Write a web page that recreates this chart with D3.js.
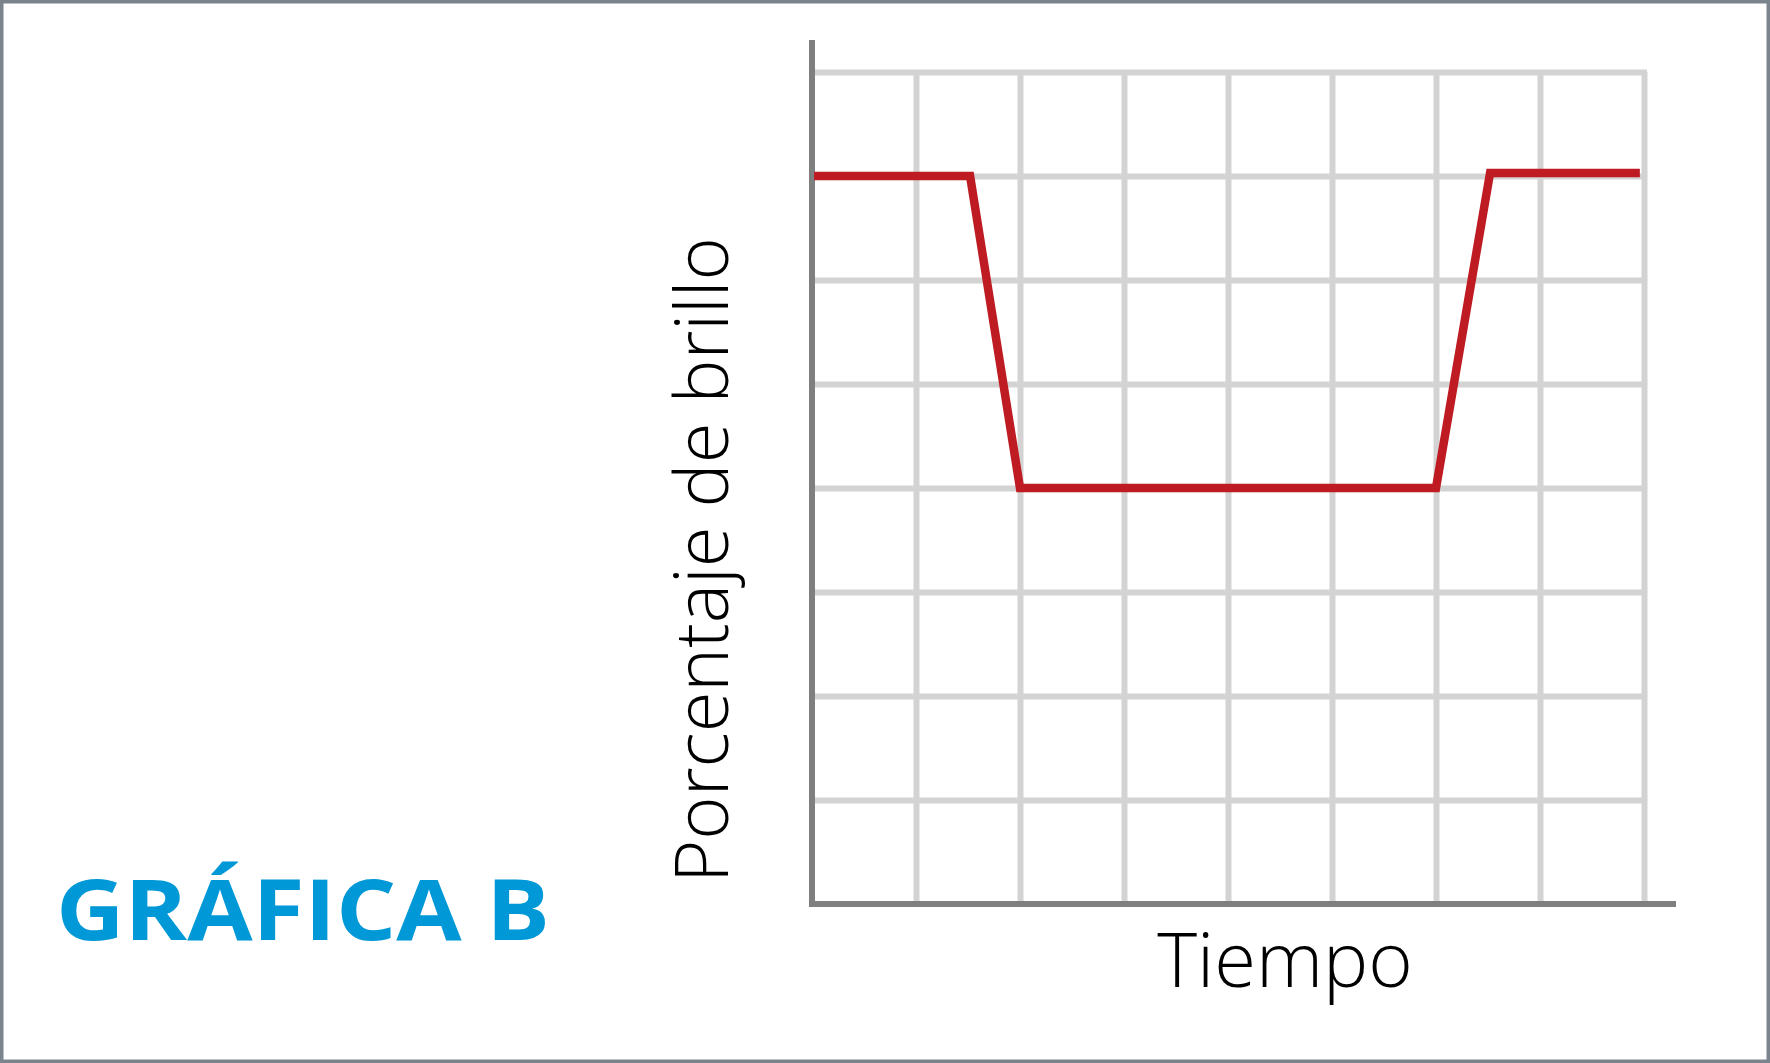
<!DOCTYPE html>
<html>
<head>
<meta charset="utf-8">
<script src="https://cdn.jsdelivr.net/npm/d3@7"></script>
<style>
  html, body { margin: 0; padding: 0; background: #fff; }
  svg { display: block; }
</style>
</head>
<body>
<div id="chart"></div>
<script>
'use strict';

// time (grid units) and brightness (%)
var timeValues = [0.02, 1.52, 2, 6, 6.52, 7.96];
var brightnessValues = [70, 70, 40, 40, 70.3, 70.3];
var xTicks = [1, 2, 3, 4, 5, 6, 7, 8];
var yTicks = [10, 20, 30, 40, 50, 60, 70, 80];

var title = 'GRÁFICA B',
    yLabel = 'Porcentaje de brillo',
    xLabel = 'Tiempo';

var width = 1770,
    height = 1063,
    gridColor = '#d3d3d3',
    axisColor = '#7f7f7f',
    lineColor = '#be1b23';

var svg = d3.select('#chart').append('svg')
    .attr('width', width)
    .attr('height', height);

// frame
svg.append('rect')
    .attr('x', 1.75).attr('y', 1.75)
    .attr('width', width - 3.5).attr('height', height - 3.5)
    .attr('fill', '#fff')
    .attr('stroke', '#7b848c')
    .attr('stroke-width', 3.5);

var x = d3.scaleLinear().domain([0, 8]).range([812, 1644]);
var y = d3.scaleLinear().domain([0, 80]).range([904, 72]);

// vertical grid
svg.append('g')
    .attr('transform', 'translate(0,' + y(0) + ')')
    .call(d3.axisBottom(x).tickValues(xTicks).tickSize(-(y(0) - y(80))).tickFormat(''))
    .call(function(g) {
        g.select('.domain').remove();
        g.selectAll('.tick line')
            .attr('stroke', gridColor)
            .attr('stroke-width', 6);
    });

// horizontal grid
svg.append('g')
    .attr('transform', 'translate(' + x(0) + ',0)')
    .call(d3.axisLeft(y).tickValues(yTicks).tickSize(-(x(8) - x(0) + 3)).tickFormat(''))
    .call(function(g) {
        g.select('.domain').remove();
        g.selectAll('.tick line')
            .attr('stroke', gridColor)
            .attr('stroke-width', 6);
    });

// axes
svg.append('line')
    .attr('x1', x(0)).attr('x2', x(0))
    .attr('y1', 40).attr('y2', y(0) + 3)
    .attr('stroke', axisColor).attr('stroke-width', 6);

svg.append('line')
    .attr('x1', x(0) - 3).attr('x2', 1676)
    .attr('y1', y(0)).attr('y2', y(0))
    .attr('stroke', axisColor).attr('stroke-width', 6);

// brightness line
var points = timeValues.map(function(t, i) { return [t, brightnessValues[i]]; });
var line = d3.line()
    .x(function(d) { return x(d[0]); })
    .y(function(d) { return y(d[1]); });

svg.append('path')
    .datum(points)
    .attr('d', line)
    .attr('fill', 'none')
    .attr('stroke', lineColor)
    .attr('stroke-width', 8.5)
    .attr('stroke-linejoin', 'miter');

// labels
svg.append('text')
    .attr('x', 1285)
    .attr('y', 987)
    .attr('text-anchor', 'middle')
    .style('font-family', '"Open Sans", sans-serif')
    .style('font-weight', 300)
    .style('font-size', '76px')
    .attr('fill', '#000')
    .text(xLabel);

svg.append('text')
    .attr('transform', 'translate(728,560) rotate(-90)')
    .attr('text-anchor', 'middle')
    .style('font-family', '"Open Sans", sans-serif')
    .style('font-weight', 300)
    .style('font-size', '74px')
    .attr('fill', '#000')
    .text(yLabel);

// title: stretch glyphs a bit so the word fills the same width
var titleText = svg.append('text')
    .style('font-family', '"Open Sans", sans-serif')
    .style('font-weight', 700)
    .style('font-size', '85px')
    .attr('fill', '#0098d7')
    .text(title);
var titleLen = titleText.node().getComputedTextLength();
titleText.attr('transform', 'translate(56,940) scale(' + (494 / titleLen) + ',1)');
</script>
</body>
</html>
